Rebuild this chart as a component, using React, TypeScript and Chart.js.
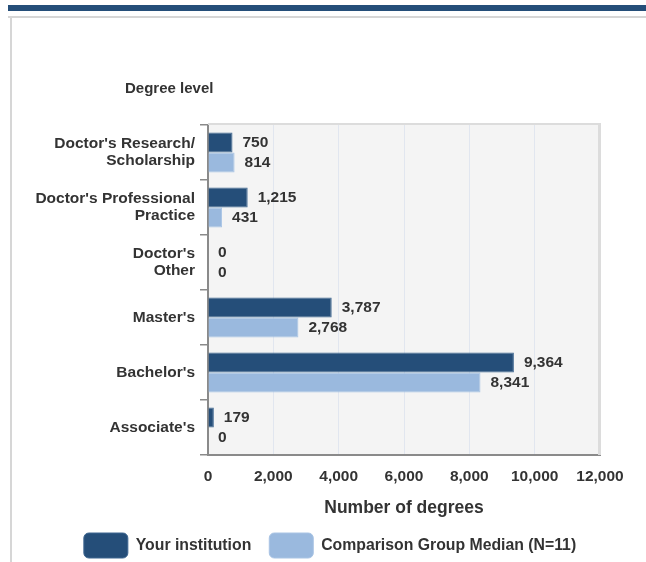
import React, { useEffect, useRef } from "react";
import { Chart, registerables } from "chart.js";

Chart.register(...registerables);

const categories: string[][] = [
  ["Doctor's Research/", "Scholarship"],
  ["Doctor's Professional", "Practice"],
  ["Doctor's", "Other"],
  ["Master's"],
  ["Bachelor's"],
  ["Associate's"],
];
const yourInstitution = [750, 1215, 0, 3787, 9364, 179];
const comparisonMedian = [814, 431, 0, 2768, 8341, 0];
const seriesNames = ["Your institution", "Comparison Group Median (N=11)"];
const xMin = 0;
const xMax = 12000;
const xStep = 2000;
const yTitle = "Degree level";
const xTitle = "Number of degrees";

const DARK = "#254e79";
const LIGHT = "#9ab9de";
const TEXT = "#333333";
const FONT = "'Liberation Sans', Arial, sans-serif";

const decorPlugin = {
  id: "decor",
  beforeDraw(chart: any) {
    const { ctx, chartArea } = chart;
    ctx.save();
    ctx.fillStyle = "#ffffff";
    ctx.fillRect(0, 0, chart.width, chart.height);
    // top blue bar
    ctx.fillStyle = DARK;
    ctx.fillRect(8, 5, chart.width - 8, 6);
    // light box border
    ctx.fillStyle = "#d6d6d6";
    ctx.fillRect(8, 16, chart.width - 8, 2);
    ctx.fillRect(10, 16, 2, chart.height - 16);
    // plot background
    ctx.fillStyle = "#f4f4f4";
    ctx.fillRect(chartArea.left, chartArea.top, chartArea.right - chartArea.left, chartArea.bottom - chartArea.top);
    // y title
    ctx.fillStyle = TEXT;
    ctx.font = `bold 15px ${FONT}`;
    ctx.textAlign = "left";
    ctx.textBaseline = "middle";
    ctx.fillText(yTitle, 125, 89);
    ctx.restore();
  },
  afterDatasetsDraw(chart: any) {
    const { ctx, chartArea } = chart;
    ctx.save();
    // top & right plot border
    ctx.fillStyle = "#dcdcdc";
    ctx.fillRect(chartArea.left, chartArea.top - 2, chartArea.right - chartArea.left + 1, 2);
    ctx.fillRect(chartArea.right - 2, chartArea.top - 2, 3, chartArea.bottom - chartArea.top + 2);
    // value labels
    ctx.fillStyle = TEXT;
    ctx.font = `bold 15.5px ${FONT}`;
    ctx.textAlign = "left";
    ctx.textBaseline = "middle";
    chart.data.datasets.forEach((ds: any, di: number) => {
      const meta = chart.getDatasetMeta(di);
      meta.data.forEach((el: any, i: number) => {
        const v = ds.data[i];
        ctx.fillText(Number(v).toLocaleString("en-US"), el.x + 10, el.y);
      });
    });
    ctx.restore();
  },
};

export default function App() {
  const ref = useRef<HTMLCanvasElement | null>(null);
  useEffect(() => {
    if (!ref.current) return;
    const chart = new Chart(ref.current, {
      type: "bar",
      data: {
        labels: categories,
        datasets: [
          {
            label: seriesNames[0],
            data: yourInstitution,
            backgroundColor: DARK,
            borderColor: "#3f6791",
            borderWidth: (c: any) => (c.raw > 0 ? 1 : 0),
            categoryPercentage: 0.73,
            barPercentage: 1,
          },
          {
            label: seriesNames[1],
            data: comparisonMedian,
            backgroundColor: LIGHT,
            borderColor: "#a9c4e4",
            borderWidth: (c: any) => (c.raw > 0 ? 1 : 0),
            categoryPercentage: 0.73,
            barPercentage: 1,
          },
        ],
      },
      options: {
        indexAxis: "y",
        responsive: false,
        animation: false,
        layout: { padding: { left: 14, right: 0, top: 125, bottom: 0 } },
        scales: {
          y: {
            type: "category",
            offset: true,
            grid: {
              offset: true,
              drawOnChartArea: false,
              drawTicks: true,
              tickLength: 8,
              color: "#8a8a8a",
              lineWidth: 1.5,
            },
            border: { display: true, color: "#8a8a8a", width: 2 },
            ticks: {
              color: TEXT,
              padding: 5,
              font: { family: FONT, size: 15.5, weight: "bold", lineHeight: 1.12 },
            },
            afterFit: (s: any) => {
              s.width = 194;
            },
          },
          yRight: {
            type: "category",
            position: "right",
            offset: true,
            grid: { display: false },
            border: { display: false },
            ticks: { display: false },
            afterFit: (s: any) => {
              s.width = 46;
            },
          },
          x: {
            type: "linear",
            min: xMin,
            max: xMax,
            grid: { color: "#e1e6ef", lineWidth: 1, drawTicks: false },
            border: { display: true, color: "#8a8a8a", width: 2 },
            ticks: {
              stepSize: xStep,
              color: TEXT,
              padding: 12,
              font: { family: FONT, size: 15.5, weight: "bold" },
              callback: (v: any) => Number(v).toLocaleString("en-US"),
            },
            title: {
              display: true,
              text: xTitle,
              color: TEXT,
              font: { family: FONT, size: 17.5, weight: "bold", lineHeight: 1 },
              padding: { top: 0, bottom: -2 },
            },
            afterFit: (s: any) => {
              s.height = 60;
            },
          },
        },
        plugins: {
          legend: {
            position: "bottom",
            maxHeight: 47,
            labels: {
              boxWidth: 44,
              boxHeight: 25,
              padding: 18,
              useBorderRadius: true,
              borderRadius: 5,
              color: TEXT,
              font: { family: FONT, size: 15.8, weight: "bold" },
            },
          },
          tooltip: { enabled: false },
          title: { display: false },
        },
      },
      plugins: [decorPlugin],
    } as any);
    return () => chart.destroy();
  }, []);
  return (
    <div style={{ position: "absolute", left: 0, top: 0, width: 646, height: 562 }}>
      <canvas ref={ref} width={646} height={562} style={{ display: "block", width: 646, height: 562 }} />
    </div>
  );
}
